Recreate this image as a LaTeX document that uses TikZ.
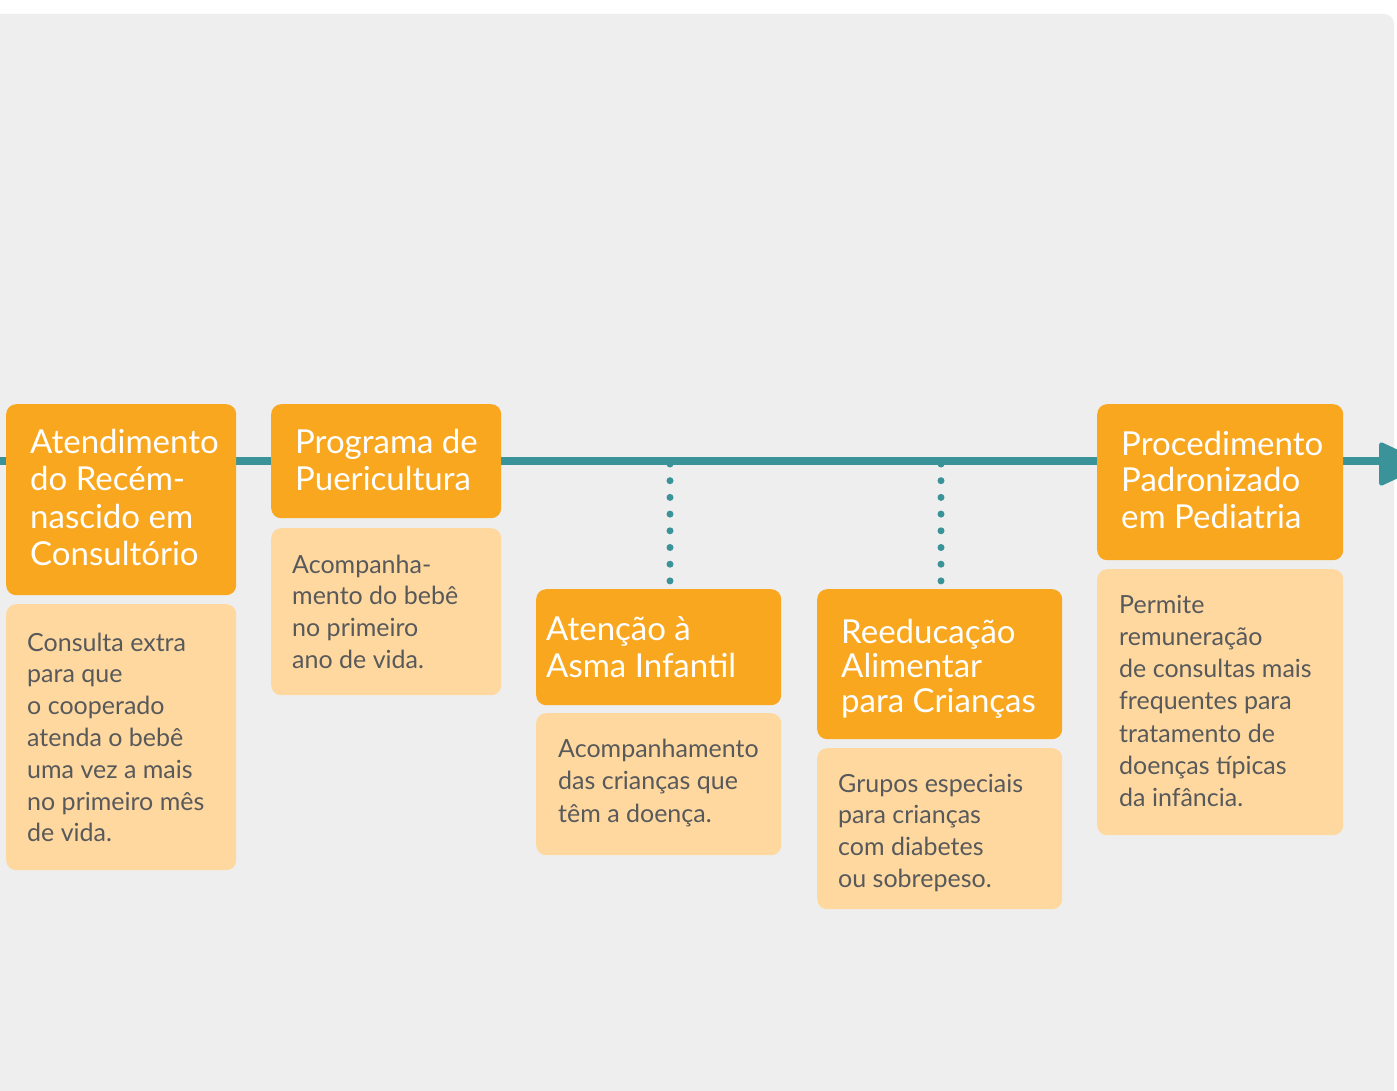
\documentclass[tikz,border=0pt]{standalone}
\usepackage{fontspec}
\setmainfont{Lato}
\definecolor{bggray}{HTML}{EEEEEE}
\definecolor{headorange}{HTML}{F9A71F}
\definecolor{bodypeach}{HTML}{FED89F}
\definecolor{tealc}{HTML}{3A9399}
\definecolor{bodytext}{HTML}{58595B}
\tikzset{
  headbox/.style={fill=headorange, rounded corners=10pt, anchor=north west, inner sep=0pt},
  bodybox/.style={fill=bodypeach, rounded corners=10pt, anchor=north west, inner sep=0pt},
  headtxt/.style={anchor=base west, inner sep=0pt, text=white, align=left, font=\fontsize{33}{37.5}\selectfont},
  bodytxt/.style={anchor=base west, inner sep=0pt, text=bodytext, align=left, font=\fontsize{25}{31.8}\selectfont},
  timeline/.style={draw=tealc, line width=8pt},
  dotline/.style={draw=tealc, line width=7pt, line cap=round, dash pattern=on 0pt off 16.7pt}
}
\begin{document}
\begin{tikzpicture}[x=1pt,y=-1pt]
\useasboundingbox (0,0) rectangle (1397,1091);
\fill[white] (0,0) rectangle (1397,1091);
\fill[bggray, rounded corners=10pt] (-20,14) rectangle (1394,1130);
% timeline
\coordinate (tstart) at (-5,461);
\coordinate (tend) at (1385,461);
\draw[timeline] (tstart) -- (tend);
\fill[tealc, rounded corners=4pt] (1379,441) -- (1428,464) -- (1379,487) -- cycle;
% dotted connectors
\coordinate (d1a) at (670,464);
\coordinate (d1b) at (670,581);
\coordinate (d2a) at (941,464);
\coordinate (d2b) at (941,581);
\draw[dotline] (d1a) -- (d1b);
\draw[dotline] (d2a) -- (d2b);
% boxes
\node[headbox, minimum width=230pt, minimum height=191pt] (h1) at (6,404) {};
\node[bodybox, minimum width=230pt, minimum height=266pt] (b1) at (6,604) {};
\node[headbox, minimum width=230pt, minimum height=114pt] (h2) at (271,404) {};
\node[bodybox, minimum width=230pt, minimum height=167pt] (b2) at (271,528) {};
\node[headbox, minimum width=245pt, minimum height=116pt] (h3) at (536,589) {};
\node[bodybox, minimum width=245pt, minimum height=142pt] (b3) at (536,713) {};
\node[headbox, minimum width=245pt, minimum height=150pt] (h4) at (817,589) {};
\node[bodybox, minimum width=245pt, minimum height=161pt] (b4) at (817,748) {};
\node[headbox, minimum width=246pt, minimum height=156pt] (h5) at (1097,404) {};
\node[bodybox, minimum width=246pt, minimum height=266pt] (b5) at (1097,569) {};
% texts (anchor = baseline of the last line)
\node[headtxt] (h1t) at (30,565.5) {Atendimento\\do Recém-\\nascido em\\Consultório};
\node[bodytxt] (b1t) at (27,841.8) {Consulta extra\\para que\\o cooperado\\atenda o bebê\\uma vez a mais\\no primeiro mês\\de vida.};
\node[headtxt] (h2t) at (295,490.5) {Programa de\\Puericultura};
\node[bodytxt] (b2t) at (292,668.4) {Acompanha-\\mento do bebê\\no primeiro\\ano de vida.};
\node[headtxt, font=\fontsize{33}{37}\selectfont] (h3t) at (546,677) {Atenção à\\Asma Infantil};
\node[bodytxt, font=\fontsize{25}{32.5}\selectfont] (b3t) at (558,822) {Acompanhamento\\das crianças que\\têm a doença.};
\node[headtxt, font=\fontsize{33}{34.5}\selectfont] (h4t) at (841,712) {Reeducação\\Alimentar\\para Crianças};
\node[bodytxt] (b4t) at (838,887.4) {Grupos especiais\\para crianças\\com diabetes\\ou sobrepeso.};
\node[headtxt, font=\fontsize{33}{36.7}\selectfont] (h5t) at (1121,528.4) {Procedimento\\Padronizado\\em Pediatria};
\node[bodytxt, font=\fontsize{25}{32.3}\selectfont] (b5t) at (1119,806.8) {Permite\\remuneração\\de consultas mais\\frequentes para\\tratamento de\\doenças típicas\\da infância.};
\end{tikzpicture}
\end{document}
